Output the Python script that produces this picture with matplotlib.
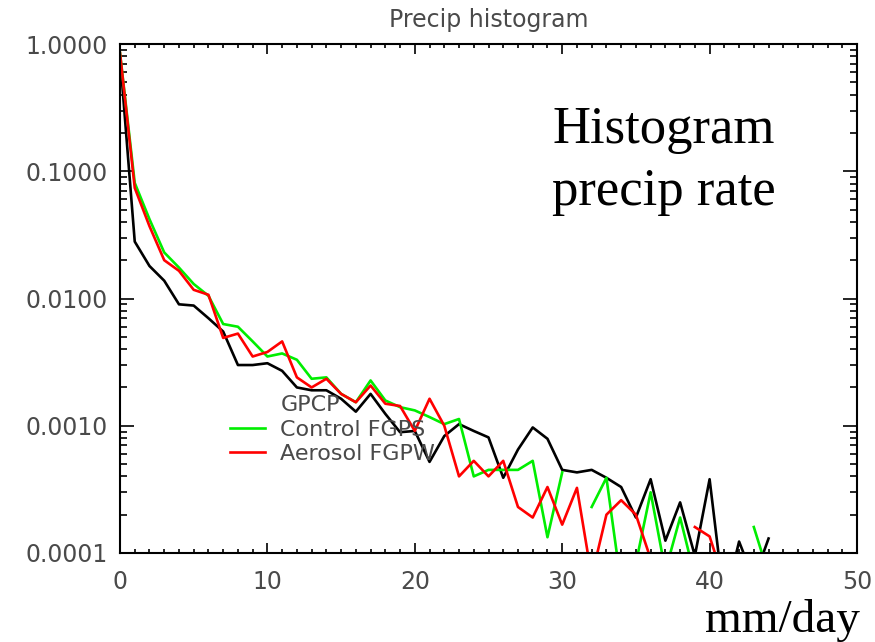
import numpy as np
import matplotlib
matplotlib.use("Agg")
import matplotlib.pyplot as plt
from matplotlib.ticker import FixedLocator, LogLocator, NullFormatter

# precipitation bins (mm/day)
bins = list(range(0, 45))

# fraction of occurrence per bin, nan = empty bin (no segment drawn)
nan = np.nan
gpcp = [0.80, 0.028, 0.018, 0.0138, 0.0090, 0.0088, 0.0070, 0.0055, 0.0030, 0.0030,
        0.0031, 0.0027, 0.0020, 0.0019, 0.0019, 0.00163, 0.00129, 0.00178, 0.00124, 0.00089,
        0.00091, 0.00052, 0.00083, 0.00103, 0.00091, 0.00081, 0.00039, 0.00065, 0.00097, 0.00079,
        0.00045, 0.00043, 0.00045, 0.00039, 0.00033, 0.00019, 0.00038, 0.000125, 0.00025, 0.000095,
        0.00038, 0.000041, 0.000123, 0.000062, 0.00013]
control = [0.85, 0.081, 0.042, 0.023, 0.0175, 0.0130, 0.0105, 0.0063, 0.0060, 0.0046,
           0.0035, 0.0037, 0.0033, 0.00234, 0.0024, 0.00178, 0.00153, 0.00227, 0.00158, 0.0014,
           0.00132, 0.00117, 0.00103, 0.00113, 0.0004, 0.00045, 0.00045, 0.00045, 0.00053, 0.000133,
           0.00043, nan, 0.00023, 0.00039, 0.000056, 0.000083, 0.00030, 0.000072, 0.00019, 0.000065,
           nan, nan, nan, 0.00016, 0.000068]
aerosol = [0.85, 0.074, 0.037, 0.020, 0.0165, 0.0117, 0.0107, 0.0049, 0.0053, 0.0035,
           0.0038, 0.0046, 0.0024, 0.0020, 0.00234, 0.00178, 0.00153, 0.00207, 0.00149, 0.00143,
           0.00091, 0.00163, 0.0010, 0.0004, 0.00053, 0.0004, 0.00053, 0.00023, 0.00019, 0.00033,
           0.000167, 0.000325, 0.000065, 0.00020, 0.00026, 0.00020, 0.00009, nan, nan, 0.00016,
           0.000135, 0.000059, nan, nan, nan]

series = [("GPCP", gpcp, "black"),
          ("Control FGPS", control, "#00ee00"),
          ("Aerosol FGPW", aerosol, "#ff0000")]

ytick_vals = [1e-4, 1e-3, 1e-2, 1e-1, 1.0]
ytick_labels = ["0.0001", "0.0010", "0.0100", "0.1000", "1.0000"]
xtick_vals = [0, 10, 20, 30, 40, 50]

grey = "#4a4a4a"

fig = plt.figure(figsize=(8.75, 6.42), dpi=100)
ax = fig.add_axes([120 / 875, 1 - 553 / 642, 737 / 875, 509 / 642])

handles = []
for name, vals, col in series:
    ln, = ax.plot(bins, vals, color=col, lw=1.9, label=name)
    handles.append(ln)

ax.set_yscale("log")
ax.set_ylim(1e-4, 1.0)
ax.set_xlim(0, 50)

ax.set_yticks(ytick_vals, ytick_labels)
ax.yaxis.set_minor_locator(LogLocator(base=10, subs=np.arange(2, 10)))
ax.yaxis.set_minor_formatter(NullFormatter())
ax.set_xticks(xtick_vals)
ax.xaxis.set_minor_locator(FixedLocator(np.arange(0, 51, 1)))

ax.tick_params(axis="both", which="both", direction="in", top=True, right=True,
               colors="black", labelcolor=grey, labelsize=17, width=1.2)
ax.tick_params(axis="y", which="major", length=10, pad=9)
ax.tick_params(axis="y", which="minor", length=5)
ax.tick_params(axis="x", which="major", length=7, pad=12)
ax.tick_params(axis="x", which="minor", length=3)
for sp in ax.spines.values():
    sp.set_linewidth(1.5)

ax.set_title("Precip histogram", color=grey, fontsize=17, pad=12)

# legend: GPCP entry has no visible sample line
leg = ax.legend(handles, [h.get_label() for h in handles], loc="upper left",
                bbox_to_anchor=(0.149, 0.31), frameon=False, fontsize=16,
                handlelength=1.6, handletextpad=0.68, labelspacing=0.2,
                borderpad=0, borderaxespad=0)
leg.legend_handles[0].set_alpha(0)
for t in leg.get_texts():
    t.set_color(grey)

serif = "Liberation Serif"
fig.text(552 / 875, 1 - 143 / 642, "Histogram", family=serif, fontsize=38, va="baseline")
fig.text(552 / 875, 1 - 205 / 642, "precip rate", family=serif, fontsize=38, va="baseline")
fig.text(860 / 875, 1 - 632 / 642, "mm/day", family=serif, fontsize=34,
         ha="right", va="baseline")

fig.savefig("out.png", dpi=100)
